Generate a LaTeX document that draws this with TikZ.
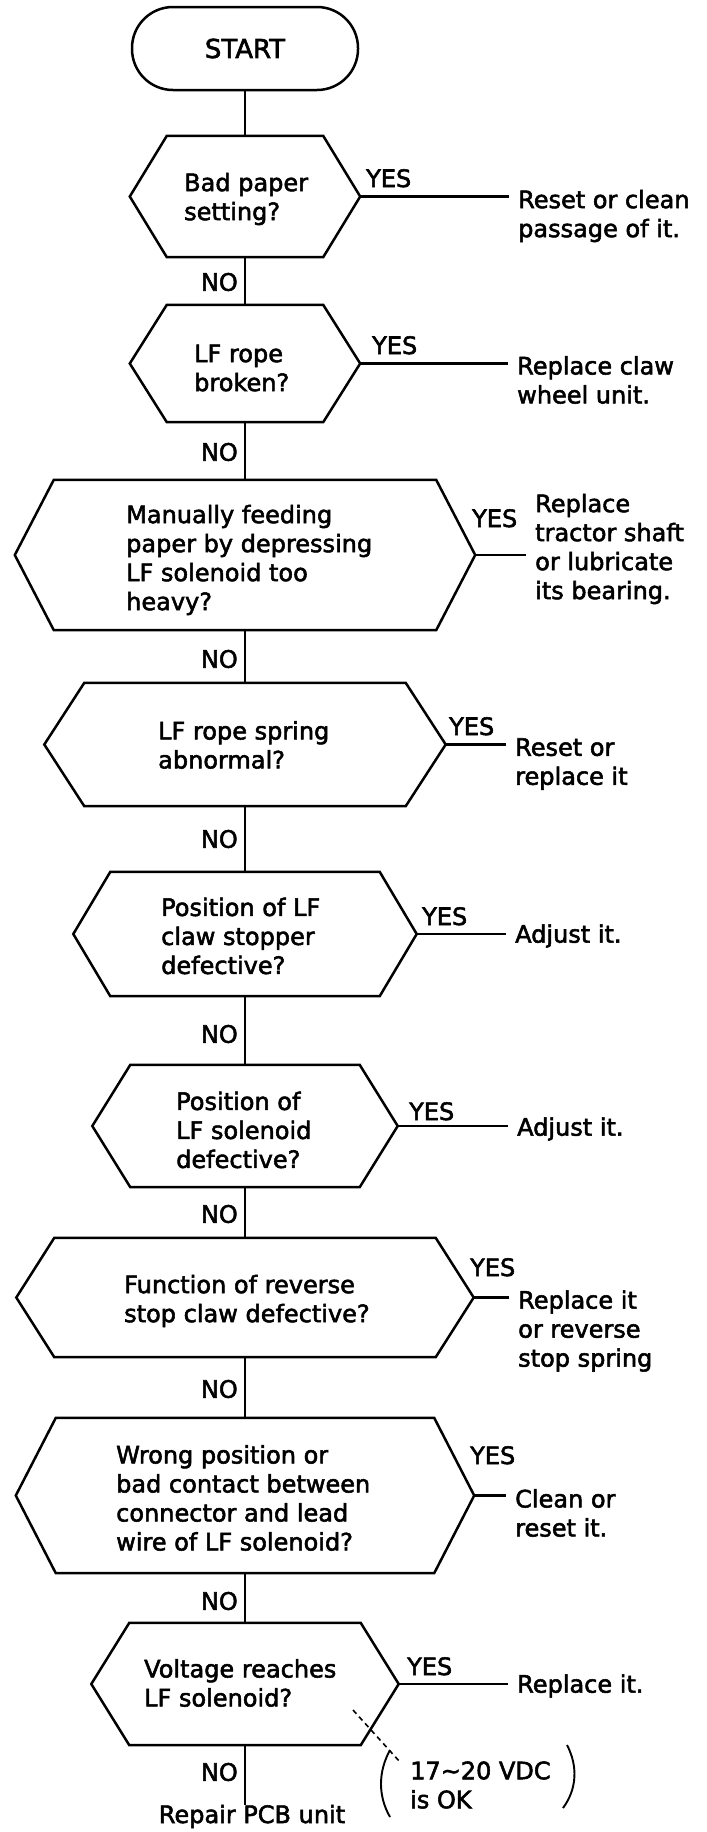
\documentclass[tikz,border=0pt]{standalone}
\usepackage{fontspec}
\setmainfont{DejaVu Sans}
\newfontfamily\diagfont{DejaVu Sans}[FakeBold=2.2]
\tikzset{
 outline/.style={line width=2.5pt, line join=miter},
 conn/.style={line width=2.3pt},
 qbox/.style={shape=rectangle, draw=none, inner sep=0pt},
 txt/.style={font=\diagfont\fontsize{24}{29}\selectfont, inner sep=0pt, align=left},
 yeslbl/.style={txt, anchor=base west},
 nolbl/.style={txt, anchor=east},
 resp/.style={txt, anchor=west},
 ques/.style={txt, anchor=west},
}
\newcommand{\hexq}[6]{%
  \node[qbox, minimum width=#4pt, minimum height=#5pt] (#1) at (#2,#3) {};
  \draw[outline] (#1.west) -- ([xshift=#6pt]#1.north west) -- ([xshift=-#6pt]#1.north east)
    -- (#1.east) -- ([xshift=-#6pt]#1.south east) -- ([xshift=#6pt]#1.south west) -- cycle;
}
\begin{document}
\begin{tikzpicture}[x=1pt,y=-1pt]
\fill[white] (0,0) rectangle (707,1832);
\useasboundingbox (0,0) rectangle (707,1832);

% start
\node[draw, outline, rounded corners=41pt, minimum width=226pt, minimum height=83pt,
      inner sep=0pt, font=\diagfont\fontsize{26}{30}\selectfont] (start) at (245,48.5) {START};

% decisions
\hexq{q1}{245}{196.5}{230}{121}{37}
\hexq{q2}{245}{363.5}{230}{117}{37}
\hexq{q3}{245}{555}{460}{150}{39}
\hexq{q4}{245}{744.5}{401}{123}{40}
\hexq{q5}{245}{934}{343}{124}{37}
\hexq{q6}{245}{1126}{305}{122}{38}
\hexq{q7}{245}{1297.5}{457}{119}{38}
\hexq{q8}{245}{1495.5}{458}{155}{40}
\hexq{q9}{245}{1684}{307}{122}{38}

% question texts
\node[ques] (t1) at (184,199) {Bad paper\\setting?};
\node[ques] (t2) at (194,368) {LF rope\\broken?};
\node[ques] (t3) at (126,560) {Manually feeding\\paper by depressing\\LF solenoid too\\heavy?};
\node[ques] (t4) at (158,745) {LF rope spring\\abnormal?};
\node[ques] (t5) at (161,936) {Position of LF\\claw stopper\\defective?};
\node[ques] (t6) at (176,1130) {Position of\\LF solenoid\\defective?};
\node[ques] (t7) at (124,1301) {Function of reverse\\stop claw defective?};
\node[ques] (t8) at (116,1498) {Wrong position or\\bad contact between\\connector and lead\\wire of LF solenoid?};
\node[ques] (t9) at (144,1683) {Voltage reaches\\LF solenoid?};

% responses
\node[resp] (r1) at (518,216) {Reset or clean\\passage of it.};
\node[resp] (r2) at (517,380) {Replace claw\\wheel unit.};
\node[resp] (r3) at (535,549) {Replace\\tractor shaft\\or lubricate\\its bearing.};
\node[resp] (r4) at (515,764) {Reset or\\replace it};
\node[resp] (r5) at (515,936) {Adjust it.};
\node[resp] (r6) at (517,1129) {Adjust it.};
\node[resp] (r7) at (518,1331) {Replace it\\or reverse\\stop spring};
\node[resp] (r8) at (515,1513) {Clean or\\reset it.};
\node[resp] (r9) at (517,1686) {Replace it.};

% YES labels
\node[yeslbl] (y1) at (366,187) {YES};
\node[yeslbl] (y2) at (372,354) {YES};
\node[yeslbl] (y3) at (472,527) {YES};
\node[yeslbl] (y4) at (449,735) {YES};
\node[yeslbl] (y5) at (422,925) {YES};
\node[yeslbl] (y6) at (409,1120) {YES};
\node[yeslbl] (y7) at (470,1276) {YES};
\node[yeslbl] (y8) at (470,1464) {YES};
\node[yeslbl] (y9) at (407,1675) {YES};

% NO labels
\node[nolbl] (n1) at (238,282) {NO};
\node[nolbl] (n2) at (238,452) {NO};
\node[nolbl] (n3) at (238,659) {NO};
\node[nolbl] (n4) at (238,839) {NO};
\node[nolbl] (n5) at (238,1034) {NO};
\node[nolbl] (n6) at (238,1214) {NO};
\node[nolbl] (n7) at (238,1389) {NO};
\node[nolbl] (n8) at (238,1601) {NO};
\node[nolbl] (n9) at (238,1772) {NO};

% final
\node[txt, anchor=base] (repair) at (252,1823) {Repair PCB unit};

% main flow
\draw[conn] (start.south) -- (q1.north);
\draw[conn] (q1.south) -- (q2.north);
\draw[conn] (q2.south) -- (q3.north);
\draw[conn] (q3.south) -- (q4.north);
\draw[conn] (q4.south) -- (q5.north);
\draw[conn] (q5.south) -- (q6.north);
\draw[conn] (q6.south) -- (q7.north);
\draw[conn] (q7.south) -- (q8.north);
\draw[conn] (q8.south) -- (q9.north);
\draw[conn] (q9.south) -- (q9.south |- repair.north);

% yes branches
\foreach \i in {1,...,9}{
  \draw[conn] (q\i.east) -- ([xshift=-9pt]q\i.east -| r\i.west);
}

% note
\node[txt, anchor=west] (note) at (410,1785) {17{\char"223C}20 VDC\\is OK};
\coordinate (lead1) at (353,1710);
\coordinate (lead2) at (400,1762);
\draw[line width=1.6pt, dash pattern=on 5pt off 4pt] (lead1) -- (lead2);
\draw[line width=1.9pt] (390,1750) .. controls (378,1772) and (378,1796) .. (390,1817);
\draw[line width=1.9pt] (567,1745) .. controls (578,1766) and (577,1789) .. (563,1808);
\end{tikzpicture}
\end{document}
